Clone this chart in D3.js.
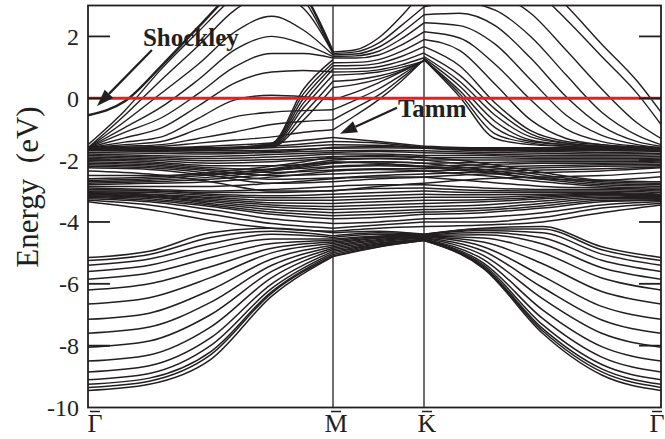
<!DOCTYPE html>
<html>
<head>
<meta charset="utf-8">
<script src="https://cdn.jsdelivr.net/npm/d3@7"></script>
<style>
  body { margin: 0; background: #fff; }
  svg { display: block; font-family: "Liberation Serif", "Times New Roman", serif; }
</style>
</head>
<body>
<div id="chart"></div>
<script>
// k-path: Γ = 0, M = 1, K = 2, Γ = 3
var kNodes = [0, 1, 2, 3];
var kLabels = ["Γ", "M", "K", "Γ"];
var yTicks = [2, 0, -2, -4, -6, -8, -10];

// fine grids for the upper (conduction) bands, one per segment
var kGM = [0, 0.15, 0.3, 0.45, 0.6, 0.75, 0.88, 1];
var kMK = [1, 1.25, 1.5, 1.75, 2];
var kKG = [2, 2.15, 2.3, 2.45, 2.6, 2.75, 2.9, 3];

// coarse grid for the valence bands (whole path)
var kAll = [0, 0.25, 0.5, 0.75, 1, 1.5, 2, 2.25, 2.5, 2.75, 3];

// Γ-M upper fan (first one is the Shockley state)
var upperGM = [
  [-0.55, -0.1, 1.05, 2.3, 3.5, 4.2, 3.4, 1.5],
  [-1.5, -0.4, 0.95, 2.15, 3.3, 4.0, 3.2, 1.45],
  [-1.6, -0.55, 0.6, 1.7, 2.86, 3.4, 2.9, 1.45],
  [-1.6, -0.75, 0.17, 1.1, 2.15, 2.65, 2.2, 1.4],
  [-1.6, -0.95, -0.28, 0.6, 1.57, 2.0, 1.75, 1.35],
  [-1.6, -1.1, -0.63, 0.15, 1.02, 1.45, 1.45, 1.3],
  [-1.6, -1.28, -0.96, -0.25, 0.5, 0.85, 0.9, 0.85],
  [-1.6, -1.42, -1.25, -0.65, -0.05, 0.1, 0.05, -0.05],
  [-1.6, -1.5, -1.4, -1.0, -0.6, -0.45, -0.4, -0.37],
  [-1.6, -1.55, -1.5, -1.3, -1.09, -0.85, -0.75, -0.7],
  [-1.6, -1.58, -1.55, -1.45, -1.35, -1.25, -1.1, -1.02]
];
// bundle rising into M̄
var bundleGM = [
  [-1.6, -1.6, -1.6, -1.6, -1.58, -1.45, 0.3, 1.25],
  [-1.6, -1.6, -1.6, -1.6, -1.58, -1.47, 0.15, 1.15],
  [-1.62, -1.62, -1.62, -1.62, -1.6, -1.5, 0.0, 1.05],
  [-1.62, -1.62, -1.62, -1.62, -1.6, -1.52, -0.15, 0.95],
  [-1.63, -1.63, -1.63, -1.63, -1.62, -1.55, -0.3, 0.75],
  [-1.63, -1.63, -1.63, -1.63, -1.62, -1.57, -0.5, 0.55],
  [-1.64, -1.64, -1.64, -1.64, -1.63, -1.58, -0.7, 0.35]
];
var upperMK = [
  [1.5, 1.57, 1.95, 2.65, 3.5],
  [1.45, 1.5, 1.78, 2.35, 2.96],
  [1.4, 1.43, 1.65, 2.12, 2.7],
  [1.35, 1.37, 1.52, 1.92, 2.44],
  [1.3, 1.3, 1.4, 1.72, 2.15],
  [1.15, 1.16, 1.25, 1.52, 1.9],
  [1.05, 1.06, 1.13, 1.35, 1.67],
  [0.95, 0.96, 1.02, 1.2, 1.47],
  [0.85, 0.86, 0.92, 1.08, 1.31],
  [0.75, 0.78, 0.85, 1.0, 1.2],
  [0.55, 0.6, 0.72, 0.92, 1.22],
  [0.35, 0.45, 0.62, 0.88, 1.22],
  [-0.05, 0.2, 0.5, 0.85, 1.22],
  [-0.37, -0.05, 0.3, 0.75, 1.23],
  [-0.7, -0.3, 0.1, 0.65, 1.24],
  [-1.02, -0.55, -0.05, 0.55, 1.25]
];
var upperKG = [
  [1.25, 0.05, -1.3, -1.5, -1.55, -1.6, -1.6, -1.6],
  [1.25, 0.15, -1.15, -1.45, -1.55, -1.6, -1.6, -1.6],
  [1.25, 0.25, -0.95, -1.4, -1.5, -1.58, -1.6, -1.6],
  [1.3, 0.4, -0.75, -1.35, -1.5, -1.55, -1.6, -1.6],
  [1.35, 0.55, -0.55, -1.25, -1.45, -1.55, -1.6, -1.6],
  [1.45, 0.75, -0.35, -1.15, -1.45, -1.55, -1.58, -1.6],
  [1.67, 1.05, -0.15, -1.05, -1.4, -1.5, -1.58, -1.6],
  [1.9, 1.55, 0.45, -0.7, -1.3, -1.5, -1.58, -1.6],
  [2.15, 1.95, 1.1, -0.05, -1.0, -1.4, -1.55, -1.6],
  [2.44, 2.35, 1.75, 0.6, -0.55, -1.2, -1.5, -1.6],
  [2.7, 2.75, 2.35, 1.3, 0.05, -0.9, -1.4, -1.55],
  [2.96, 3.1, 2.85, 2.0, 0.75, -0.45, -1.2, -1.5],
  [3.5, 3.6, 3.4, 2.75, 1.55, 0.3, -0.8, -1.3],
  [4.2, 4.2, 4.1, 3.6, 2.55, 1.35, 0.15, -0.85],
  [4.8, 4.8, 4.6, 4.1, 3.0, 1.75, 0.55, -0.45]
];

// dense d-band block (first one is the Tamm state)
var denseBands = [
  [-1.6, -1.6, -1.55, -1.45, -1.27, -1.4, -1.55, -1.6, -1.6, -1.6, -1.6],
  [-1.62, -1.63, -1.62, -1.55, -1.4, -1.45, -1.6, -1.62, -1.62, -1.62, -1.62],
  [-1.65, -1.65, -1.65, -1.6, -1.5, -1.52, -1.58, -1.65, -1.65, -1.65, -1.65],
  [-1.68, -1.72, -1.75, -1.72, -1.58, -1.56, -1.6, -1.68, -1.72, -1.75, -1.72],
  [-1.7, -1.7, -1.7, -1.68, -1.62, -1.6, -1.62, -1.7, -1.7, -1.7, -1.7],
  [-1.75, -1.78, -1.8, -1.75, -1.7, -1.68, -1.7, -1.75, -1.78, -1.8, -1.78],
  [-1.8, -1.85, -1.88, -1.82, -1.75, -1.72, -1.76, -1.8, -1.84, -1.85, -1.83],
  [-1.85, -1.9, -1.95, -1.9, -1.8, -1.8, -1.85, -1.85, -1.9, -1.9, -1.88],
  [-1.9, -1.95, -2.02, -1.98, -1.88, -1.88, -1.92, -1.92, -1.95, -1.95, -1.93],
  [-1.95, -2.0, -2.1, -2.05, -1.95, -1.95, -2.0, -2.0, -2.0, -2.0, -1.98],
  [-2.0, -2.05, -2.18, -2.18, -2.08, -2.05, -2.1, -2.08, -2.05, -2.05, -2.03],
  [-2.05, -2.1, -2.25, -2.3, -2.2, -2.15, -2.2, -2.15, -2.1, -2.1, -2.08],
  [-2.1, -2.15, -2.3, -2.4, -2.32, -2.28, -2.28, -2.22, -2.18, -2.15, -2.13],
  [-2.15, -2.2, -2.35, -2.5, -2.45, -2.4, -2.35, -2.3, -2.25, -2.2, -2.18],
  [-2.2, -2.25, -2.42, -2.62, -2.58, -2.5, -2.45, -2.38, -2.32, -2.28, -2.22],
  [-2.25, -2.3, -2.5, -2.75, -2.7, -2.6, -2.55, -2.45, -2.4, -2.35, -2.25],
  [-2.35, -2.45, -2.7, -3.0, -3.0, -2.85, -2.75, -2.6, -2.55, -2.5, -2.38],
  [-2.5, -2.5, -2.45, -2.3, -2.05, -2.1, -2.2, -2.35, -2.6, -2.65, -2.54],
  [-2.6, -2.55, -2.4, -2.2, -1.9, -1.85, -1.9, -2.1, -2.4, -2.65, -2.7],
  [-2.65, -2.6, -2.48, -2.28, -2.0, -1.95, -2.0, -2.2, -2.48, -2.7, -2.75],
  [-2.7, -2.65, -2.55, -2.35, -2.1, -2.05, -2.1, -2.3, -2.55, -2.75, -2.8],
  [-2.75, -2.7, -2.62, -2.45, -2.22, -2.18, -2.22, -2.4, -2.62, -2.8, -2.85],
  [-2.8, -2.75, -2.7, -2.55, -2.35, -2.3, -2.35, -2.5, -2.7, -2.85, -2.9],
  [-2.85, -2.85, -2.85, -2.75, -2.6, -2.55, -2.55, -2.7, -2.85, -2.9, -2.95],
  [-2.9, -2.95, -3.0, -2.95, -2.85, -2.8, -2.8, -2.9, -2.95, -2.95, -3.0],
  [-2.95, -2.98, -3.05, -3.05, -2.98, -2.92, -2.9, -2.98, -3.0, -3.0, -3.05],
  [-3.0, -3.0, -3.1, -3.15, -3.1, -3.05, -3.0, -3.05, -3.05, -3.05, -3.1],
  [-3.02, -3.05, -3.15, -3.22, -3.2, -3.15, -3.1, -3.12, -3.1, -3.08, -3.12],
  [-3.05, -3.1, -3.2, -3.3, -3.3, -3.25, -3.2, -3.2, -3.15, -3.1, -3.15],
  [-3.08, -3.12, -3.25, -3.38, -3.4, -3.35, -3.3, -3.28, -3.2, -3.12, -3.18],
  [-3.1, -3.15, -3.3, -3.45, -3.5, -3.45, -3.4, -3.35, -3.25, -3.15, -3.2],
  [-3.12, -3.18, -3.35, -3.52, -3.6, -3.55, -3.5, -3.45, -3.32, -3.2, -3.22],
  [-3.15, -3.2, -3.4, -3.6, -3.7, -3.65, -3.6, -3.55, -3.4, -3.25, -3.25],
  [-3.18, -3.25, -3.45, -3.68, -3.8, -3.75, -3.68, -3.62, -3.48, -3.3, -3.28],
  [-3.2, -3.3, -3.5, -3.75, -3.9, -3.85, -3.75, -3.7, -3.55, -3.35, -3.3],
  [-3.25, -3.35, -3.6, -3.9, -4.05, -4.0, -3.9, -3.85, -3.7, -3.45, -3.35],
  [-3.3, -3.45, -3.75, -4.05, -4.2, -4.1, -4.0, -4.0, -3.85, -3.55, -3.4],
  [-3.35, -3.6, -3.95, -4.2, -4.3, -4.2, -4.15, -4.1, -4.0, -3.7, -3.45]
];

// lower sp-band fan
var lowerBands = [
  [-5.15, -4.95, -4.35, -4.2, -4.35, -4.3, -4.4, -4.2, -4.15, -4.8, -5.15],
  [-5.25, -5.05, -4.5, -4.3, -4.45, -4.35, -4.4, -4.23, -4.23, -4.9, -5.25],
  [-5.4, -5.2, -4.7, -4.4, -4.5, -4.4, -4.41, -4.28, -4.35, -5.04, -5.4],
  [-5.6, -5.4, -4.9, -4.55, -4.55, -4.45, -4.42, -4.34, -4.51, -5.24, -5.6],
  [-5.85, -5.65, -5.15, -4.7, -4.6, -4.48, -4.43, -4.41, -4.71, -5.48, -5.85],
  [-6.2, -6.0, -5.45, -4.85, -4.65, -4.5, -4.45, -4.52, -4.99, -5.81, -6.2],
  [-6.65, -6.45, -5.8, -5.0, -4.7, -4.53, -4.47, -4.65, -5.35, -6.25, -6.65],
  [-7.15, -6.95, -6.2, -5.2, -4.75, -4.57, -4.49, -4.8, -5.75, -6.73, -7.15],
  [-7.6, -7.4, -6.6, -5.4, -4.8, -4.6, -4.51, -4.94, -6.12, -7.17, -7.6],
  [-8.05, -7.85, -7.0, -5.6, -4.85, -4.64, -4.53, -5.08, -6.48, -7.6, -8.05],
  [-8.5, -8.3, -7.4, -5.8, -4.9, -4.68, -4.56, -5.21, -6.84, -8.03, -8.5],
  [-8.85, -8.65, -7.75, -6.0, -4.95, -4.71, -4.57, -5.32, -7.12, -8.37, -8.85],
  [-9.1, -8.9, -8.0, -6.15, -5.0, -4.74, -4.58, -5.39, -7.32, -8.61, -9.1],
  [-9.25, -9.05, -8.2, -6.25, -5.05, -4.77, -4.59, -5.44, -7.44, -8.75, -9.25],
  [-9.35, -9.15, -8.3, -6.3, -5.1, -4.8, -4.6, -5.47, -7.52, -8.85, -9.35],
  [-9.45, -9.25, -8.45, -6.4, -5.12, -4.81, -4.6, -5.5, -7.6, -8.95, -9.45]
];

var W = 665, H = 439;
var x = d3.scaleLinear().domain(kNodes).range([88, 333, 424, 661]);
var y = d3.scaleLinear().domain([-10, 3]).range([407.5, 5.5]);

var svg = d3.select("#chart").append("svg")
  .attr("width", W)
  .attr("height", H);

svg.append("clipPath").attr("id", "plot")
  .append("rect")
  .attr("x", x(0)).attr("y", y(3))
  .attr("width", x(3) - x(0)).attr("height", y(-10) - y(3));

var ink = "#231f20";
var line = d3.line()
  .x(function(d) { return x(d[0]); })
  .y(function(d) { return y(d[1]); })
  .curve(d3.curveMonotoneX);

var bands = svg.append("g").attr("clip-path", "url(#plot)")
  .attr("fill", "none").attr("stroke", ink).attr("stroke-width", 1.4);

function drawSeg(grid, vals, sw) {
  var p = bands.append("path").attr("d", line(grid.map(function(k, i) { return [k, vals[i]]; })));
  if (sw) p.attr("stroke-width", sw);
}

upperGM.forEach(function(b, i) { drawSeg(kGM, b, i === 0 ? 2.4 : null); });
bundleGM.forEach(function(b) { drawSeg(kGM, b); });
upperMK.forEach(function(b) { drawSeg(kMK, b); });
upperKG.forEach(function(b) { drawSeg(kKG, b); });

// valence bands: split the coarse grid at M and K so cusps stay sharp
var cuts = [[0, 4], [4, 6], [6, 10]];
denseBands.concat(lowerBands).forEach(function(b) {
  cuts.forEach(function(c) {
    drawSeg(kAll.slice(c[0], c[1] + 1), b.slice(c[0], c[1] + 1), 1.5);
  });
});

// high-symmetry verticals
svg.selectAll("line.sym")
  .data([1, 2])
  .enter().append("line")
  .attr("class", "sym")
  .attr("x1", function(d) { return x(d); }).attr("x2", function(d) { return x(d); })
  .attr("y1", y(3)).attr("y2", y(-10))
  .attr("stroke", ink).attr("stroke-width", 1.3);

// Fermi level
svg.append("line")
  .attr("x1", x(0)).attr("x2", x(3))
  .attr("y1", y(0)).attr("y2", y(0))
  .attr("stroke", "#ed1c24").attr("stroke-width", 2.8);

// frame
svg.append("rect")
  .attr("x", x(0)).attr("y", y(3))
  .attr("width", x(3) - x(0)).attr("height", y(-10) - y(3))
  .attr("fill", "none").attr("stroke", ink).attr("stroke-width", 1.8);

// y ticks, inward on both sides
var yTickIn = yTicks.filter(function(d) { return d > -10; });
svg.selectAll("line.tl").data(yTickIn).enter().append("line")
  .attr("x1", x(0)).attr("x2", x(0) + 22)
  .attr("y1", function(d) { return y(d); }).attr("y2", function(d) { return y(d); })
  .attr("stroke", ink).attr("stroke-width", 1.8);
svg.selectAll("line.tr").data(yTickIn).enter().append("line")
  .attr("x1", x(3) - 22).attr("x2", x(3))
  .attr("y1", function(d) { return y(d); }).attr("y2", function(d) { return y(d); })
  .attr("stroke", ink).attr("stroke-width", 1.8);

svg.selectAll("text.ytick").data(yTicks).enter().append("text")
  .attr("class", "ytick")
  .attr("x", 79)
  .attr("y", function(d) { return y(d); })
  .attr("dy", "0.35em")
  .attr("text-anchor", "end")
  .attr("font-size", 24)
  .attr("fill", ink)
  .text(function(d) { return d; });

// k labels with overbars (last one pulled in so it stays inside the page)
var kLab = svg.selectAll("g.klab").data(kNodes).enter().append("g")
  .attr("transform", function(d) { return "translate(" + (x(d) + (d === 0 ? 7 : d === 3 ? -4 : 3)) + ",0)"; });
kLab.append("text")
  .attr("y", 432)
  .attr("text-anchor", "middle")
  .attr("font-size", 26)
  .attr("fill", ink)
  .text(function(d, i) { return kLabels[i]; });
kLab.append("line")
  .attr("x1", -5).attr("x2", 5)
  .attr("y1", 411.5).attr("y2", 411.5)
  .attr("stroke", ink).attr("stroke-width", 1.5);

// y axis title
svg.append("text")
  .attr("transform", "translate(38," + 187 + ") rotate(-90)")
  .attr("text-anchor", "middle")
  .attr("font-size", 31)
  .attr("fill", ink)
  .attr("xml:space", "preserve")
  .text("Energy  (eV)");

// annotations
function arrow(k0, e0, k1, e1) {
  var x0 = x(k0), y0 = y(e0), x1 = x(k1), y1 = y(e1);
  var a = Math.atan2(y1 - y0, x1 - x0), L = 17, w = 6;
  var bx = x1 - L * Math.cos(a), by = y1 - L * Math.sin(a);
  svg.append("line").attr("x1", x0).attr("y1", y0).attr("x2", bx).attr("y2", by)
    .attr("stroke", ink).attr("stroke-width", 2.2);
  svg.append("path")
    .attr("d", "M" + x1 + "," + y1 +
      "L" + (bx + w * Math.sin(a)) + "," + (by - w * Math.cos(a)) +
      "L" + (bx - w * Math.sin(a)) + "," + (by + w * Math.cos(a)) + "Z")
    .attr("fill", ink);
}
arrow(0.261, 1.56, 0.037, -0.25);
arrow(1.703, -0.31, 1.077, -1.15);

svg.append("text")
  .attr("x", x(0.224)).attr("y", y(1.69))
  .attr("font-size", 25).attr("font-weight", "bold").attr("fill", ink)
  .text("Shockley");
svg.append("text")
  .attr("x", x(1.714)).attr("y", y(-0.6))
  .attr("font-size", 25).attr("font-weight", "bold").attr("fill", ink)
  .text("Tamm");
</script>
</body>
</html>
